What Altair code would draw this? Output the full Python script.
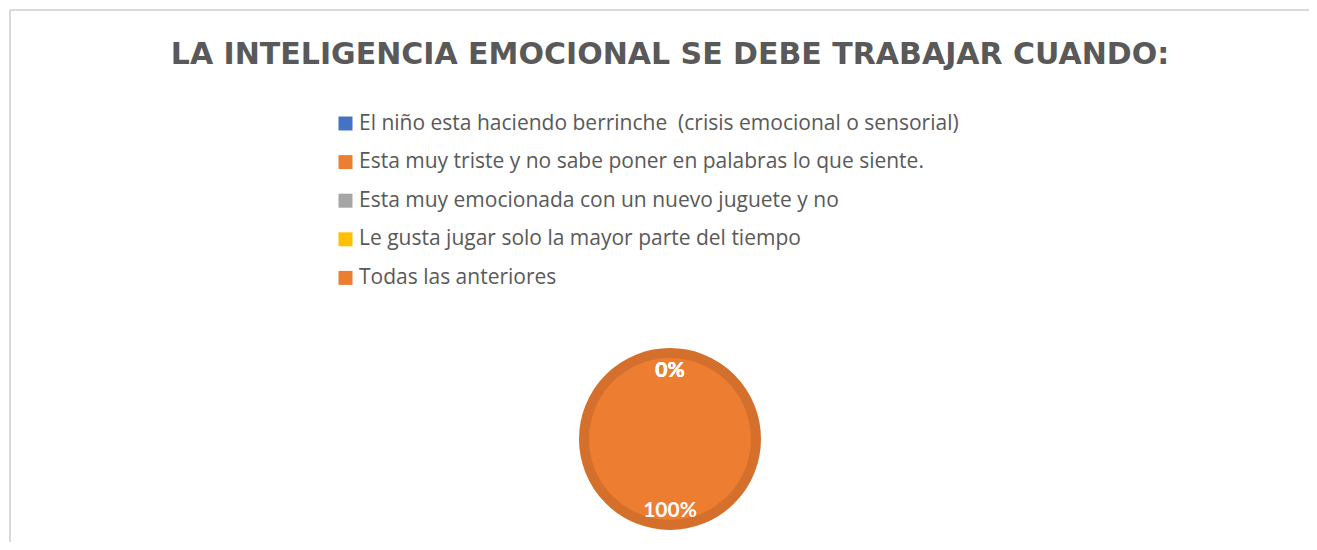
import altair as alt
import pandas as pd

# ---- data ----
categories = [
    "El niño esta haciendo berrinche \u00a0(crisis emocional o sensorial)",
    "Esta muy triste y no sabe poner en palabras lo que siente.",
    "Esta muy emocionada con un nuevo juguete y no",
    "Le gusta jugar solo la mayor parte del tiempo",
    "Todas las anteriores",
]
values = [0, 0, 0, 0, 100]
labels = ["0%", "0%", "0%", "0%", "100%"]
fill_colors = ["#4472C4", "#ED7D31", "#A5A5A5", "#FFC000", "#ED7D31"]
stroke_colors = ["#3A62A8", "#D4702C", "#8F8F8F", "#DBA600", "#D4702C"]
title_text = "LA INTELIGENCIA EMOCIONAL SE DEBE TRABAJAR CUANDO:"

df = pd.DataFrame({
    "cat": categories,
    "value": values,
    "label": labels,
    "order": list(range(len(categories))),
})

CX, CY = 662, 431

base = alt.Chart(df).encode(
    theta=alt.Theta("value:Q", stack=True),
    order=alt.Order("order:Q"),
)

pie = base.mark_arc(outerRadius=86).encode(
    x=alt.value(CX),
    y=alt.value(CY),
    fill=alt.Fill(
        "cat:N",
        sort=categories,
        scale=alt.Scale(domain=categories, range=fill_colors),
        legend=alt.Legend(
            orient="none", legendX=327, legendY=105, title=None,
            symbolType="square", symbolSize=196, symbolStrokeWidth=0,
            labelFont="Open Sans", labelFontSize=21, labelColor="#595959",
            rowPadding=16.6, labelOffset=3, labelLimit=900, padding=0,
        ),
    ),
    stroke=alt.Stroke(
        "cat:N",
        scale=alt.Scale(domain=categories, range=stroke_colors),
        legend=None,
    ),
    strokeWidth=alt.condition("datum.value > 0", alt.value(10), alt.value(0)),
)

pct = base.mark_text(
    radius=70, font="Lato", fontSize=21, fontWeight="bold", color="white", dy=2
).encode(
    x=alt.value(CX),
    y=alt.value(CY),
    text="label:N",
)

title = alt.Chart(pd.DataFrame({"t": [title_text]})).mark_text(
    font="DejaVu Sans", fontSize=30, fontWeight="bold", color="#595959",
    align="center", baseline="middle",
).encode(text="t:N", x=alt.value(CX), y=alt.value(47))

frame_left = alt.Chart(pd.DataFrame({"a": [0]})).mark_rule(
    color="#D9D9D9", strokeWidth=2
).encode(x=alt.value(2), y=alt.value(2), y2=alt.value(534))
frame_top = alt.Chart(pd.DataFrame({"a": [0]})).mark_rule(
    color="#D9D9D9", strokeWidth=2
).encode(x=alt.value(2), x2=alt.value(1301), y=alt.value(2))

chart = alt.layer(frame_left, frame_top, pie, pct, title).properties(
    width=1301, height=534, padding=0,
    autosize=alt.AutoSizeParams(type="none"),
).configure_view(stroke=None)

chart.save("out.html", embed_options={"renderer": "svg", "actions": False})
